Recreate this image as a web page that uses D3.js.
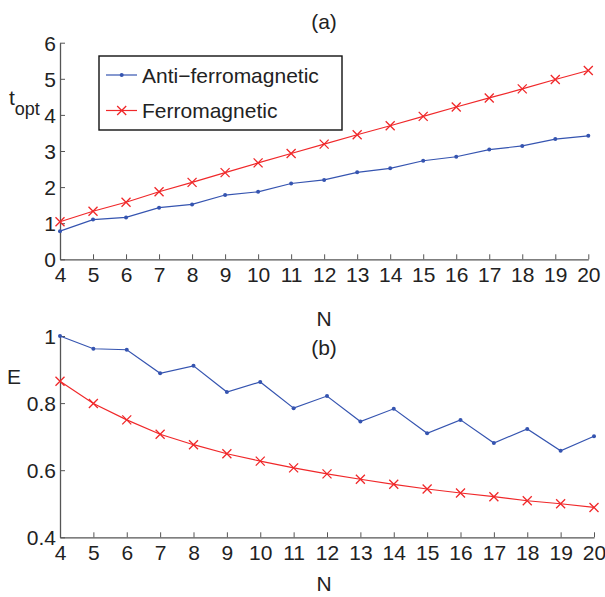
<!DOCTYPE html>
<html>
<head>
<meta charset="utf-8">
<script src="https://cdn.jsdelivr.net/npm/d3@7"></script>
<style>
  body { margin: 0; background: #fff; }
  svg text { font-family: "Liberation Sans", Arial, sans-serif; fill: #222; }
</style>
</head>
<body>
<div id="chart"></div>
<script>
// chain length N
var sizes = [4, 5, 6, 7, 8, 9, 10, 11, 12, 13, 14, 15, 16, 17, 18, 19, 20];

// (a) optimal time
var toptAnti = [0.78, 1.10, 1.16, 1.43, 1.52, 1.78, 1.87, 2.10, 2.20, 2.41, 2.52, 2.73, 2.84, 3.04, 3.14, 3.33, 3.42];
var toptFerro = [1.04, 1.33, 1.58, 1.87, 2.13, 2.40, 2.67, 2.93, 3.19, 3.45, 3.70, 3.96, 4.22, 4.47, 4.72, 4.98, 5.23];

// (b) E
var eAnti = [1.00, 0.962, 0.959, 0.889, 0.911, 0.833, 0.863, 0.785, 0.821, 0.745, 0.783, 0.710, 0.750, 0.681, 0.723, 0.658, 0.701];
var eFerro = [0.865, 0.799, 0.750, 0.707, 0.676, 0.649, 0.627, 0.607, 0.589, 0.573, 0.558, 0.544, 0.532, 0.521, 0.509, 0.500, 0.489];

var topTicks = [0, 1, 2, 3, 4, 5, 6];
var bottomTicks = [0.4, 0.6, 0.8, 1];
var seriesNames = ["Anti\u2212ferromagnetic", "Ferromagnetic"];

var blue = "#3554b0", red = "#f0282a", axisCol = "#555";

var svg = d3.select("#chart").append("svg")
    .attr("width", 605)
    .attr("height", 597);

function drawPanel(opts) {
    var x = d3.scaleLinear().domain([4, 20]).range([60, opts.right]);
    var y = d3.scaleLinear().domain(opts.domain).range([opts.bottom, opts.top]);
    var g = svg.append("g");

    var xAxis = g.append("g")
        .attr("transform", "translate(0," + opts.bottom + ")")
        .call(d3.axisBottom(x).tickValues(sizes).tickFormat(d3.format("d")).tickSizeInner(-5).tickSizeOuter(0).tickPadding(8));
    var yAxis = g.append("g")
        .attr("transform", "translate(60,0)")
        .call(d3.axisLeft(y).tickValues(opts.ticks).tickFormat(function(d) { return d; }).tickSizeInner(-5).tickSizeOuter(0).tickPadding(4));

    [xAxis, yAxis].forEach(function(a) {
        a.select(".domain").attr("stroke", axisCol).attr("stroke-width", 1.3);
        a.selectAll(".tick line").attr("stroke", axisCol);
        a.selectAll("text").style("font-size", "21px").attr("fill", "#222");
    });
    yAxis.selectAll("text").attr("dy", "0.36em");

    var line = d3.line()
        .x(function(d, i) { return x(sizes[i]); })
        .y(function(d) { return y(d); });

    g.append("path").datum(opts.anti)
        .attr("d", line).attr("fill", "none").attr("stroke", blue).attr("stroke-width", 1.2);
    g.selectAll(".dot").data(opts.anti).enter().append("circle")
        .attr("cx", function(d, i) { return x(sizes[i]); })
        .attr("cy", function(d) { return y(d); })
        .attr("r", 2).attr("fill", blue);

    g.append("path").datum(opts.ferro)
        .attr("d", line).attr("fill", "none").attr("stroke", red).attr("stroke-width", 1.2);
    g.selectAll(".cross").data(opts.ferro).enter().append("path")
        .attr("transform", function(d, i) { return "translate(" + x(sizes[i]) + "," + y(d) + ")"; })
        .attr("d", "M-4.5,-4.5L4.5,4.5M-4.5,4.5L4.5,-4.5")
        .attr("stroke", red).attr("stroke-width", 1.3);

    svg.append("text").attr("x", 324).attr("y", opts.titleY)
        .attr("text-anchor", "middle").style("font-size", "21px").text(opts.title);
    svg.append("text").attr("x", 324).attr("y", opts.xlabY)
        .attr("text-anchor", "middle").style("font-size", "21px").text("N");
}

drawPanel({ domain: [0, 6], ticks: topTicks, top: 42.7, bottom: 259.3, right: 588.3,
            anti: toptAnti, ferro: toptFerro, title: "(a)", titleY: 29, xlabY: 326 });
drawPanel({ domain: [0.4, 1], ticks: bottomTicks, top: 336, bottom: 537.3, right: 594,
            anti: eAnti, ferro: eFerro, title: "(b)", titleY: 355, xlabY: 591 });

// y labels
var tl = svg.append("text").attr("x", 9).attr("y", 105).style("font-size", "21px");
tl.append("tspan").text("t");
tl.append("tspan").attr("dy", 10).style("font-size", "18px").text("opt");
svg.append("text").attr("x", 7).attr("y", 384).style("font-size", "21px").text("E");

// legend
var leg = svg.append("g");
leg.append("rect").attr("x", 99).attr("y", 56).attr("width", 243).attr("height", 74)
    .attr("fill", "#fff").attr("stroke", "#111").attr("stroke-width", 1.4);
var rows = leg.selectAll(".row").data(seriesNames).enter().append("g")
    .attr("transform", function(d, i) { return "translate(0," + (75 + i * 35.5) + ")"; });
rows.append("line").attr("x1", 106).attr("x2", 137).attr("y1", 0).attr("y2", 0)
    .attr("stroke", function(d, i) { return i ? red : blue; }).attr("stroke-width", 1.2);
rows.append("text").attr("x", 142).attr("y", 0).attr("dy", "0.36em")
    .style("font-size", "21px").text(function(d) { return d; });
leg.append("circle").attr("cx", 121.7).attr("cy", 75).attr("r", 2).attr("fill", blue);
leg.append("path").attr("transform", "translate(121.7,110.5)")
    .attr("d", "M-4.5,-4.5L4.5,4.5M-4.5,4.5L4.5,-4.5").attr("stroke", red).attr("stroke-width", 1.3);
</script>
</body>
</html>
